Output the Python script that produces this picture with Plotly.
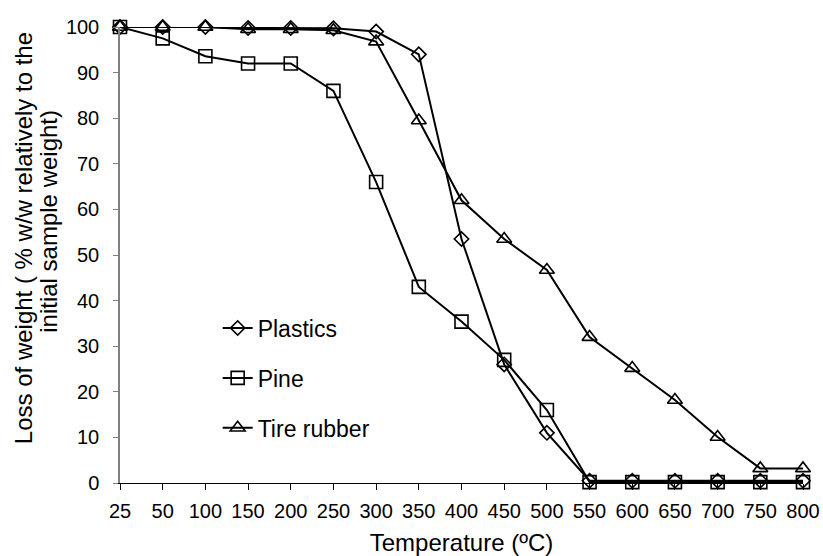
import plotly.graph_objects as go

temperatures = ["25", "50", "100", "150", "200", "250", "300", "350", "400",
                "450", "500", "550", "600", "650", "700", "750", "800"]
plastics = [100, 100, 100, 99.8, 99.8, 99.7, 99.0, 94.0, 53.5, 26.0, 11.0,
            0.5, 0.5, 0.5, 0.5, 0.5, 0.5]
pine = [100, 97.5, 93.6, 92.0, 92.0, 86.0, 66.0, 43.0, 35.4, 27.0, 16.0,
        0.2, 0.2, 0.2, 0.2, 0.2, 0.2]
tire_rubber = [100, 100, 100, 99.5, 99.5, 99.3, 96.8, 79.5, 62.0, 53.5, 46.7,
               32.0, 25.2, 18.2, 10.1, 3.2, 3.2]
y_title_lines = ["Loss of weight ( % w/w relatively to the", "initial sample weight)"]

series = [
    ("Plastics", plastics, "diamond-open", 11),
    ("Pine", pine, "square-open", 13),
    ("Tire rubber", tire_rubber, "triangle-up-open", 13),
]

FONT = "Liberation Sans, Arial, sans-serif"

fig = go.Figure()
for i, (name, vals, sym, sz) in enumerate(series):
    fig.add_trace(go.Scatter(
        x=temperatures, y=vals, name=name, mode="lines+markers",
        legendgroup=f"g{i}",
        line=dict(color="black", width=2),
        marker=dict(symbol=sym, size=sz, color="black",
                    line=dict(color="black", width=1.6)),
        cliponaxis=False,
    ))

for xpos, ypos, txt in zip([-0.142, -0.104], [0.537, 0.575], y_title_lines):
    fig.add_annotation(x=xpos, y=ypos, xref="paper", yref="paper",
                       text=txt, textangle=-90, showarrow=False,
                       xanchor="center", yanchor="middle",
                       font=dict(family=FONT, size=24, color="black"))

fig.update_layout(
    width=823, height=556,
    margin=dict(l=120, r=20, t=27, b=73),
    paper_bgcolor="white", plot_bgcolor="white",
    font=dict(family=FONT, size=20, color="black"),
    showlegend=True,
    legend=dict(x=0.143, y=0.387, xanchor="left", yanchor="top",
                bgcolor="rgba(0,0,0,0)", tracegroupgap=17,
                font=dict(size=23), traceorder="grouped"),
    xaxis=dict(
        type="category", range=[0, 16], showgrid=False, zeroline=False,
        showline=True, linecolor="black", linewidth=1, automargin=False,
        ticks="outside", ticklen=6, tickcolor="black", ticklabelstandoff=4,
        tickfont=dict(size=20),
        title=dict(text="Temperature (ºC)", standoff=17, font=dict(size=24)),
    ),
    yaxis=dict(
        range=[0, 100], dtick=10, showgrid=False, zeroline=False,
        showline=True, linecolor="#808080", linewidth=1.5, automargin=False,
        ticks="outside", ticklen=5, tickcolor="#808080", ticklabelstandoff=10,
        tickfont=dict(size=20),
    ),
)

fig.write_html(
    "out.html",
    config={"displayModeBar": False},
    post_script=("document.body.style.margin='0';"
                 "document.documentElement.style.overflow='hidden';"
                 "document.body.style.overflow='hidden';"),
)
